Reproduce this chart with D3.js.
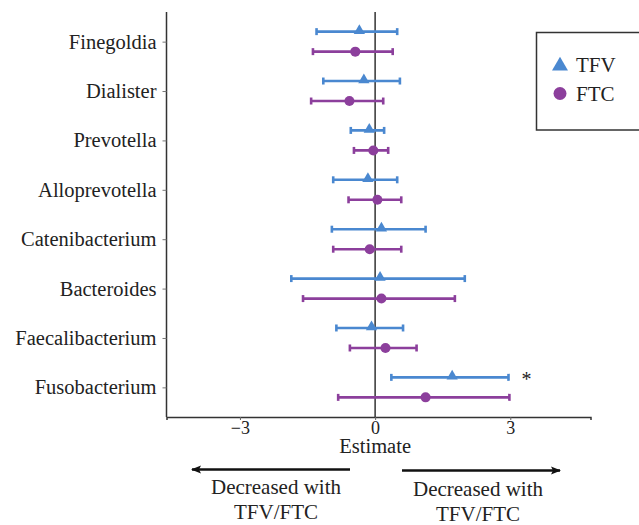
<!DOCTYPE html>
<html><head><meta charset="utf-8">
<script src="https://cdn.jsdelivr.net/npm/d3@7/dist/d3.min.js"></script>
<style>body{margin:0;background:#fff}svg{display:block}text{font-family:"Liberation Serif","Times New Roman",serif;fill:#222}</style>
</head><body><svg id="c" width="639" height="525"></svg>
<script>
const categories = ["Finegoldia","Dialister","Prevotella","Alloprevotella","Catenibacterium","Bacteroides","Faecalibacterium","Fusobacterium"];
const tfvEst = [-0.35,-0.25,-0.13,-0.16,0.14,0.11,-0.08,1.71];
const tfvLo  = [-1.30,-1.15,-0.54,-0.93,-0.96,-1.86,-0.86,0.36];
const tfvHi  = [0.49,0.55,0.20,0.49,1.12,1.99,0.62,2.96];
const ftcEst = [-0.44,-0.57,-0.04,0.05,-0.12,0.14,0.23,1.12];
const ftcLo  = [-1.38,-1.42,-0.47,-0.59,-0.93,-1.60,-0.56,-0.82];
const ftcHi  = [0.39,0.18,0.29,0.58,0.58,1.77,0.92,2.98];
const xTicks = [-3,0,3];
const seriesNames = ["TFV","FTC"];
const significant = ["Fusobacterium"];

const colors = {TFV:"#4a88d0", FTC:"#8c3f9c"};
const svg = d3.select("#c");
const x = d3.scaleLinear().domain([-4.63,4.78]).range([166.5,590.5]);
const y = d3.scaleLinear().domain([-0.6,7.6]).range([12,417]);
const off = {TFV:-10, FTC:10};

// axes
const xAxis = d3.axisBottom(x).tickValues(xTicks).tickSize(3).tickPadding(1)
  .tickFormat(d => d < 0 ? "\u2212" + Math.abs(d) : d);
const gx = svg.append("g").attr("transform","translate(0,417)").call(xAxis);
gx.select(".domain").attr("stroke","#333").attr("stroke-width",1.5);
gx.selectAll(".tick line").attr("stroke","#666");
gx.selectAll("text").attr("font-size",18).style("font-family","Liberation Serif, serif").attr("fill","#222");

const yAxis = d3.axisLeft(y).tickValues(d3.range(categories.length)).tickFormat(i => categories[i]).tickSize(4).tickPadding(6);
const gy = svg.append("g").attr("transform","translate(166.5,0)").call(yAxis);
gy.select(".domain").attr("stroke","#333").attr("stroke-width",1.5).attr("d","M0,12V417");
gy.selectAll(".tick line").attr("stroke","#777");
gy.selectAll("text").attr("font-size",20.5).style("font-family","Liberation Serif, serif").attr("fill","#222");

// zero line
svg.append("line").attr("x1",x(0)).attr("x2",x(0)).attr("y1",12).attr("y2",417)
  .attr("stroke","#333").attr("stroke-width",1.5);

// data rows
const rows = [];
categories.forEach((c,i) => {
  rows.push({s:"TFV", i, est:tfvEst[i], lo:tfvLo[i], hi:tfvHi[i]});
  rows.push({s:"FTC", i, est:ftcEst[i], lo:ftcLo[i], hi:ftcHi[i]});
});
const g = svg.append("g");
rows.forEach(r => {
  const yy = y(r.i) + off[r.s];
  const col = colors[r.s];
  g.append("line").attr("x1",x(r.lo)).attr("x2",x(r.hi)).attr("y1",yy).attr("y2",yy)
    .attr("stroke",col).attr("stroke-width",2.6);
  [r.lo,r.hi].forEach(v => g.append("line").attr("x1",x(v)).attr("x2",x(v)).attr("y1",yy-3.5).attr("y2",yy+3.5)
    .attr("stroke",col).attr("stroke-width",2.6));
  if (r.s === "TFV") {
    g.append("path").attr("d", d3.symbol(d3.symbolTriangle, 55)()).attr("transform",`translate(${x(r.est)},${yy-1})`).attr("fill",col);
  } else {
    g.append("circle").attr("cx",x(r.est)).attr("cy",yy).attr("r",5).attr("fill",col);
  }
});
significant.forEach(c => {
  const i = categories.indexOf(c);
  svg.append("text").attr("x",x(tfvHi[i])+18).attr("y",y(i)+off.TFV+9).attr("font-size",20).attr("text-anchor","middle").text("*");
});

// x label
svg.append("text").attr("x",x(0)).attr("y",453).attr("text-anchor","middle").attr("font-size",20.5).text("Estimate");

// arrows
const defs = svg.append("defs");
defs.append("marker").attr("id","ah").attr("viewBox","0 0 10 10").attr("refX",9).attr("refY",5)
  .attr("markerWidth",5).attr("markerHeight",4).attr("markerUnits","strokeWidth").attr("orient","auto-start-reverse")
  .append("path").attr("d","M0,1L10,5L0,9L2,5Z").attr("fill","#111");
svg.append("line").attr("x1",350).attr("x2",192).attr("y1",469.5).attr("y2",469.5).attr("stroke","#111").attr("stroke-width",2.5).attr("marker-end","url(#ah)");
svg.append("line").attr("x1",402).attr("x2",560).attr("y1",470.5).attr("y2",470.5).attr("stroke","#111").attr("stroke-width",2.5).attr("marker-end","url(#ah)");

[[276,494,519],[478,496,520.5]].forEach(([cx,y1,y2]) => {
  svg.append("text").attr("x",cx).attr("y",y1).attr("text-anchor","middle").attr("font-size",21).text("Decreased with");
  svg.append("text").attr("x",cx).attr("y",y2).attr("text-anchor","middle").attr("font-size",21).text("TFV/FTC");
});

// legend
svg.append("rect").attr("x",536.5).attr("y",32.5).attr("width",120).attr("height",97.5).attr("fill","#fff").attr("stroke","#333").attr("stroke-width",1.5);
seriesNames.forEach((s,k) => {
  const ly = 65 + k*28.5;
  if (s === "TFV") svg.append("path").attr("d", d3.symbol(d3.symbolTriangle, 110)()).attr("transform",`translate(560,${ly+1})`).attr("fill",colors[s]);
  else svg.append("circle").attr("cx",560).attr("cy",ly).attr("r",6.5).attr("fill",colors[s]);
  svg.append("text").attr("x",576).attr("y",ly+7).attr("font-size",21).text(s);
});
</script></body></html>
